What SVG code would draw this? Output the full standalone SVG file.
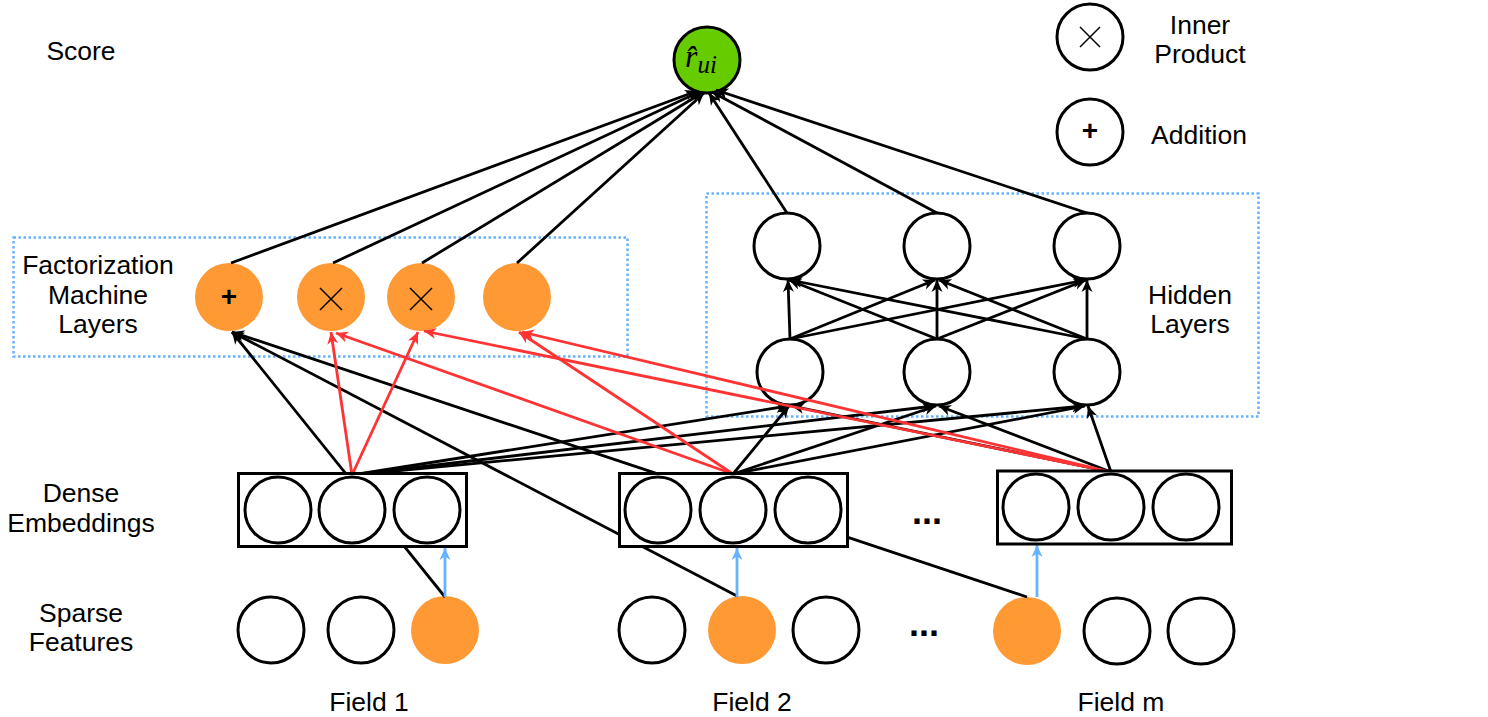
<svg xmlns="http://www.w3.org/2000/svg" width="1488" height="717" viewBox="0 0 1488 717">
  <style>
    text { font-family: "Liberation Sans", Arial, sans-serif; font-size: 26.5px; fill: #000; text-anchor: middle; }
    .math { font-family: "Liberation Serif", "Times New Roman", serif; font-style: italic; text-anchor: start; font-size: 32px; }
    .sub { font-size: 25px; }
    .node { fill: #fff; stroke: #000; stroke-width: 3; }
    .hot { fill: #FF9933; stroke: none; }
    .score { fill: #66CC00; stroke: #000; stroke-width: 3; }
    .frame { fill: #fff; stroke: #000; stroke-width: 3; }
    .group { fill: none; stroke: #66B2FF; stroke-width: 2.5; stroke-dasharray: 2.5 2.5; }
    .op { stroke: #000; stroke-width: 1.5; fill: none; }
    .plus { font-weight: bold; font-size: 28px; }
    .dots { font-weight: bold; font-size: 36px; }
    .k { stroke: #000; stroke-width: 2.8; fill: none; marker-end: url(#ak); }
    .r { stroke: #FF3333; stroke-width: 2.8; fill: none; marker-end: url(#ar); }
    .b { stroke: #66B2FF; stroke-width: 2.8; fill: none; marker-end: url(#ab); }
  </style>
  <defs>
    <marker id="ak" markerUnits="userSpaceOnUse" markerWidth="14" markerHeight="14" refX="12" refY="7" orient="auto">
      <path d="M12,7 L0,1.5 L3.5,7 L0,12.5 Z" fill="#000"/>
    </marker>
    <marker id="ar" markerUnits="userSpaceOnUse" markerWidth="14" markerHeight="14" refX="12" refY="7" orient="auto">
      <path d="M12,7 L0,1.5 L3.5,7 L0,12.5 Z" fill="#FF3333"/>
    </marker>
    <marker id="ab" markerUnits="userSpaceOnUse" markerWidth="14" markerHeight="14" refX="12" refY="7" orient="auto">
      <path d="M12,7 L0,1.5 L3.5,7 L0,12.5 Z" fill="#66B2FF"/>
    </marker>
  </defs>

  <rect width="1488" height="717" fill="#fff"/>

  <!-- row labels -->
  <g id="labels">
    <text x="81" y="60">Score</text>
    <text x="98" y="274">Factorization</text>
    <text x="98" y="303.5">Machine</text>
    <text x="98" y="333">Layers</text>
    <text x="81" y="502">Dense</text>
    <text x="81" y="531.5">Embeddings</text>
    <text x="81" y="622">Sparse</text>
    <text x="81" y="651">Features</text>
    <text x="1190" y="304">Hidden</text>
    <text x="1190" y="333">Layers</text>
    <text x="369" y="711">Field 1</text>
    <text x="752" y="711">Field 2</text>
    <text x="1121" y="711">Field m</text>
    <text class="dots" x="927" y="524">...</text>
    <text class="dots" x="924" y="636">...</text>
  </g>

  <!-- legend -->
  <g id="legend-inner-product">
    <circle class="node" cx="1090" cy="37" r="33"/>
    <path class="op" d="M1080,27 L1100,47 M1100,27 L1080,47"/>
    <text x="1200" y="34">Inner</text>
    <text x="1200" y="63">Product</text>
  </g>
  <g id="legend-addition">
    <circle class="node" cx="1090" cy="132" r="33"/>
    <text class="plus" x="1090" y="140">+</text>
    <text x="1199" y="144">Addition</text>
  </g>

  <!-- layer frames -->
  <rect id="fm-layers" class="group" x="13.5" y="237.5" width="614" height="119"/>
  <rect id="hidden-layers" class="group" x="706.5" y="193.5" width="552" height="223"/>

  <!-- output -->
  <g id="score">
    <circle class="score" cx="707" cy="60" r="33"/>
    <text class="math" x="685" y="67">r&#770;<tspan class="sub" dy="6">ui</tspan></text>
  </g>

  <!-- factorization machine units -->
  <g id="fm-add">
    <circle class="hot" cx="229" cy="297" r="34"/>
    <text class="plus" x="229" y="306">+</text>
  </g>
  <g id="fm-inner-1">
    <circle class="hot" cx="331" cy="297" r="34"/>
    <path class="op" d="M320,288 L342,310 M342,288 L320,310"/>
  </g>
  <g id="fm-inner-2">
    <circle class="hot" cx="421" cy="297" r="34"/>
    <path class="op" d="M410,288 L432,310 M432,288 L410,310"/>
  </g>
  <g id="fm-unit-4">
    <circle class="hot" cx="517" cy="297" r="34"/>
  </g>

  <!-- hidden units -->
  <g id="h2-1"><circle class="node" cx="787" cy="246" r="33"/></g>
  <g id="h2-2"><circle class="node" cx="937" cy="246" r="33"/></g>
  <g id="h2-3"><circle class="node" cx="1087" cy="246" r="33"/></g>
  <g id="h1-1"><circle class="node" cx="790" cy="372" r="33"/></g>
  <g id="h1-2"><circle class="node" cx="937" cy="372" r="33"/></g>
  <g id="h1-3"><circle class="node" cx="1087" cy="372" r="33"/></g>

  <!-- sparse features -->
  <g id="sparse-1">
    <circle class="node" cx="271" cy="630" r="33"/>
    <circle class="node" cx="361" cy="630" r="33"/>
    <circle class="hot" cx="445" cy="630" r="34"/>
  </g>
  <g id="sparse-2">
    <circle class="node" cx="652" cy="630" r="33"/>
    <circle class="hot" cx="742" cy="630" r="34"/>
    <circle class="node" cx="826" cy="630" r="33"/>
  </g>
  <g id="sparse-m">
    <circle class="hot" cx="1027" cy="631" r="34"/>
    <circle class="node" cx="1117" cy="631" r="33"/>
    <circle class="node" cx="1201" cy="631" r="33"/>
  </g>

  <g id="connectors">
    <!-- first-order terms: sparse inputs to the addition unit -->
    <line class="k" x1="445" y1="597" x2="232" y2="332"/>
    <line class="k" x1="737" y1="596" x2="232" y2="332"/>
    <line class="k" x1="1027" y1="597" x2="232" y2="332"/>

    <!-- embedding lookups -->
    <line class="b" x1="445" y1="597" x2="445" y2="548"/>
    <line class="b" x1="737" y1="597" x2="737" y2="548"/>
    <line class="b" x1="1037" y1="597" x2="1037" y2="545"/>

    <!-- FM and deep outputs to the score -->
    <line class="k" x1="231" y1="263" x2="697" y2="91"/>
    <line class="k" x1="333" y1="263" x2="699" y2="92"/>
    <line class="k" x1="422" y1="263" x2="702" y2="93"/>
    <line class="k" x1="517" y1="263" x2="704" y2="93"/>
    <line class="k" x1="787" y1="213" x2="709" y2="93"/>
    <line class="k" x1="937" y1="213" x2="712" y2="92"/>
    <line class="k" x1="1087" y1="213" x2="716" y2="90"/>

    <!-- hidden layer 1 to hidden layer 2 -->
    <line class="k" x1="790" y1="339" x2="788" y2="280"/>
    <line class="k" x1="790" y1="339" x2="935" y2="280"/>
    <line class="k" x1="790" y1="339" x2="1085" y2="280"/>
    <line class="k" x1="937" y1="339" x2="789" y2="280"/>
    <line class="k" x1="937" y1="339" x2="937" y2="280"/>
    <line class="k" x1="937" y1="339" x2="1086" y2="280"/>
    <line class="k" x1="1087" y1="339" x2="790" y2="280"/>
    <line class="k" x1="1087" y1="339" x2="939" y2="280"/>
    <line class="k" x1="1087" y1="339" x2="1087" y2="280"/>

    <!-- embeddings to hidden layer 1 -->
    <line class="k" x1="352" y1="475" x2="788" y2="406"/>
    <line class="k" x1="352" y1="475" x2="934" y2="406"/>
    <line class="k" x1="352" y1="475" x2="1084" y2="406"/>
    <line class="k" x1="733" y1="474" x2="789" y2="406"/>
    <line class="k" x1="733" y1="474" x2="936" y2="406"/>
    <line class="k" x1="733" y1="474" x2="1085" y2="406"/>
    <line class="k" x1="1111" y1="472" x2="792" y2="406"/>
    <line class="k" x1="1111" y1="472" x2="939" y2="406"/>
    <line class="k" x1="1111" y1="472" x2="1088" y2="406"/>

    <!-- embeddings to FM units -->
    <line class="r" x1="352" y1="475" x2="331" y2="332"/>
    <line class="r" x1="352" y1="475" x2="418" y2="332"/>
    <line class="r" x1="733" y1="474" x2="336" y2="333"/>
    <line class="r" x1="733" y1="474" x2="519" y2="332"/>
    <line class="r" x1="1111" y1="472" x2="424" y2="331"/>
    <line class="r" x1="1111" y1="472" x2="522" y2="332"/>
  </g>

  <!-- dense embeddings -->
  <g id="embed-1">
    <rect class="frame" x="238.5" y="473.5" width="228" height="73"/>
    <circle class="node" cx="278" cy="510" r="33"/>
    <circle class="node" cx="352" cy="510" r="33"/>
    <circle class="node" cx="427" cy="510" r="33"/>
  </g>
  <g id="embed-2">
    <rect class="frame" x="619.5" y="473.5" width="228" height="73"/>
    <circle class="node" cx="658" cy="510" r="33"/>
    <circle class="node" cx="733" cy="510" r="33"/>
    <circle class="node" cx="808" cy="510" r="33"/>
  </g>
  <g id="embed-m">
    <rect class="frame" x="997.5" y="471" width="234" height="73"/>
    <circle class="node" cx="1036" cy="507" r="33"/>
    <circle class="node" cx="1111" cy="507" r="33"/>
    <circle class="node" cx="1186" cy="507" r="33"/>
  </g>
</svg>
